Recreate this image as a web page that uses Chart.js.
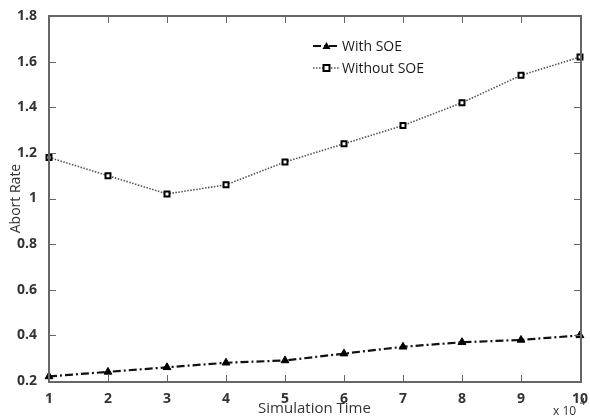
<!DOCTYPE html>
<html>
<head>
<meta charset="utf-8">
<script src="https://cdn.jsdelivr.net/npm/chart.js@4.4.1/dist/chart.umd.min.js"></script>
<style>
  html, body { margin: 0; padding: 0; background: #fff; }
  #wrap { width: 590px; height: 418px; position: relative; }
</style>
</head>
<body>
<div id="wrap"><canvas id="myChart" width="590" height="418"></canvas></div>
<script>
// データ
const simTime = [1, 2, 3, 4, 5, 6, 7, 8, 9, 10];
const withSOE = [0.22, 0.24, 0.26, 0.28, 0.29, 0.32, 0.35, 0.37, 0.38, 0.40];
const withoutSOE = [1.18, 1.10, 1.02, 1.06, 1.16, 1.24, 1.32, 1.42, 1.54, 1.62];
const yTicks = [0.2, 0.4, 0.6, 0.8, 1, 1.2, 1.4, 1.6, 1.8];

const toPoints = function (ys) {
  return simTime.map(function (x, i) { return { x: x, y: ys[i] }; });
};

// 内向きの目盛りと枠、凡例、x10^4 を描くプラグイン
const boxPlugin = {
  id: "box",
  afterDraw: function (chart) {
    const c = chart.ctx;
    const a = chart.chartArea;
    const xs = chart.scales.x;
    const ys = chart.scales.y;
    c.save();
    c.setLineDash([]);
    c.globalAlpha = 1;
    c.fillStyle = "#666";
    const L = Math.round(a.left) - 1, R = Math.round(a.right);
    const T = Math.round(a.top) - 1, B = Math.round(a.bottom);
    // 枠（2px の矩形で塗る）
    c.fillRect(L, T, R - L + 2, 2);
    c.fillRect(L, B, R - L + 2, 2);
    c.fillRect(L, T, 2, B - T + 2);
    c.fillRect(R, T, 2, B - T + 2);
    // 内向きの目盛り
    xs.ticks.forEach(function (t) {
      const px = Math.round(xs.getPixelForValue(t.value));
      c.fillRect(px, B - 6, 1, 6);
      c.fillRect(px, T + 2, 1, 6);
    });
    ys.ticks.forEach(function (t) {
      const py = Math.round(ys.getPixelForValue(t.value));
      c.fillRect(L + 2, py, 6, 1);
      c.fillRect(R - 6, py, 6, 1);
    });

    // 凡例
    const items = chart.data.datasets;
    items.forEach(function (ds, i) {
      const y = 46 + i * 22;
      const x0 = 313, x1 = 340;
      c.strokeStyle = ds.borderColor;
      c.lineWidth = ds.borderWidth;
      c.setLineDash(ds.borderDash);
      c.beginPath(); c.moveTo(x0, y); c.lineTo(x1, y); c.stroke();
      c.setLineDash([]);
      const mx = (x0 + x1) / 2;
      c.lineWidth = 2;
      c.strokeStyle = "#000";
      if (ds.pointStyle === "triangle") {
        c.fillStyle = "#000";
        c.beginPath();
        c.moveTo(mx, y - 4); c.lineTo(mx + 4, y + 3); c.lineTo(mx - 4, y + 3);
        c.closePath(); c.fill();
      } else {
        c.fillStyle = "#fff";
        c.fillRect(mx - 3, y - 3, 6, 6);
        c.strokeRect(mx - 3, y - 3, 6, 6);
      }
      c.fillStyle = "#1a1a1a";
      c.font = "14px 'Open Sans'";
      c.textBaseline = "middle";
      c.textAlign = "left";
      c.fillText(ds.label, x1 + 2, y + 1);
    });

    // x 10^4
    c.fillStyle = "#333";
    c.font = "12px 'Open Sans'";
    c.textBaseline = "alphabetic";
    c.textAlign = "left";
    c.fillText("x 10", 553, 415);
    c.font = "9px 'Open Sans'";
    c.fillText("4", 580, 405);
    c.restore();
  }
};

const ctx = document.getElementById("myChart").getContext("2d");
const myChart = new Chart(ctx, {
  type: "line",
  data: {
    datasets: [
      {
        label: "With SOE",
        data: toPoints(withSOE),
        borderColor: "#111",
        borderWidth: 2.2,
        borderDash: [8, 3, 2, 3],
        pointStyle: "triangle",
        pointRadius: 4.5,
        pointBackgroundColor: "#000",
        pointBorderColor: "#000",
        pointBorderWidth: 1,
        tension: 0,
        clip: false,
      },
      {
        label: "Without SOE",
        data: toPoints(withoutSOE),
        borderColor: "#555",
        borderWidth: 1.6,
        borderDash: [1.5, 1.5],
        pointStyle: "rect",
        pointRadius: 3.5,
        pointBackgroundColor: "#fff",
        pointBorderColor: "#000",
        pointBorderWidth: 2,
        tension: 0,
        clip: false,
      },
    ],
  },
  options: {
    responsive: false,
    animation: false,
    layout: { padding: { top: 16, right: 6, left: 0, bottom: 0 } },
    plugins: { legend: { display: false }, tooltip: { enabled: false } },
    scales: {
      x: {
        type: "linear",
        min: 1,
        max: 10,
        afterFit: function (s) { s.height = 37; },
        afterBuildTicks: function (s) {
          s.ticks = simTime.map(function (v) { return { value: v }; });
        },
        grid: { display: false },
        border: { display: false },
        ticks: {
          color: "#333",
          padding: 2,
          maxRotation: 0,
          callback: function (v) { return String(v); },
          font: { family: "'Open Sans'", size: 14, weight: "bold" },
        },
        title: {
          display: true,
          text: "Simulation Time",
          color: "#333",
          padding: { top: -4, bottom: 0 },
          font: { family: "'Open Sans'", size: 15 },
        },
      },
      y: {
        min: 0.2,
        max: 1.8,
        afterFit: function (s) { s.width = 49; },
        afterBuildTicks: function (s) {
          s.ticks = yTicks.map(function (v) { return { value: v }; });
        },
        grid: { display: false },
        border: { display: false },
        ticks: {
          color: "#333",
          padding: 4,
          callback: function (v) { return String(Math.round(v * 10) / 10); },
          font: { family: "'Open Sans'", size: 14, weight: "bold" },
        },
        title: {
          display: true,
          text: "Abort Rate",
          color: "#333",
          padding: { top: 8, bottom: 0 },
          font: { family: "'Open Sans'", size: 14 },
        },
      },
    },
  },
  plugins: [boxPlugin],
});
</script>
</body>
</html>
